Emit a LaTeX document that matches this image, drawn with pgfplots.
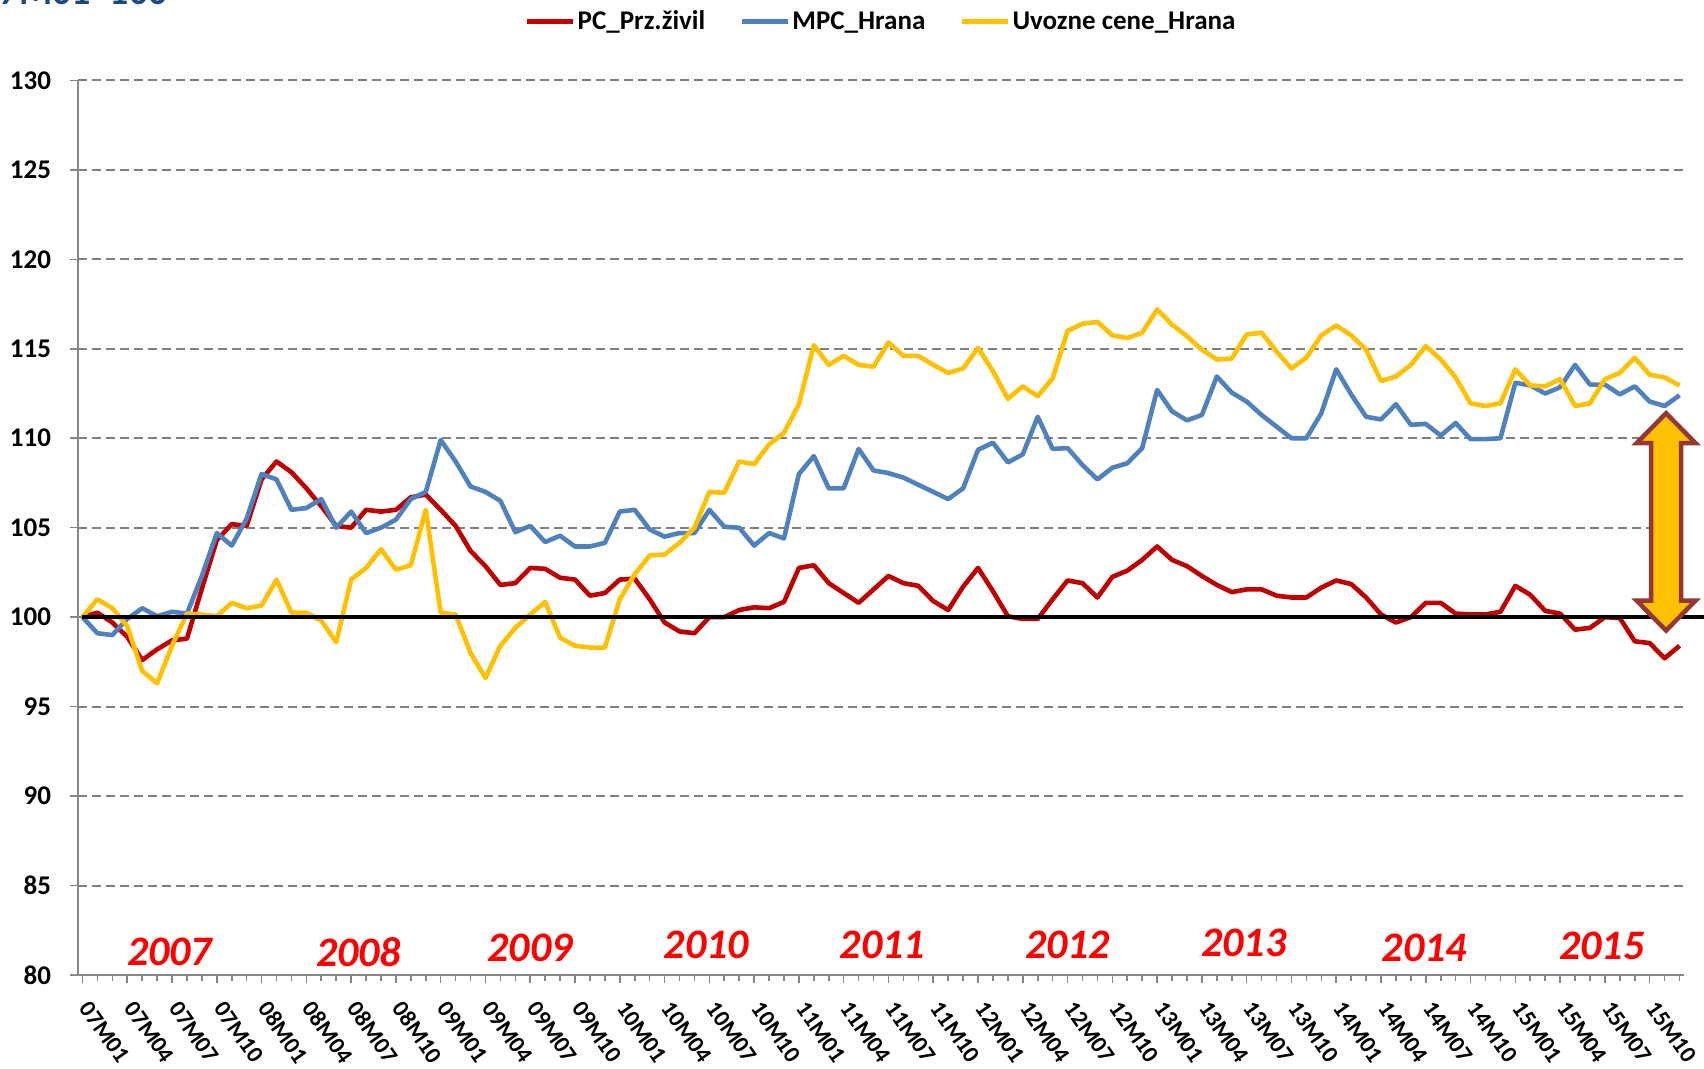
\documentclass[border=0pt]{standalone}
\usepackage{fontspec}
\setmainfont{Carlito}
\usepackage{pgfplots}
\pgfplotsset{compat=1.18}
\usepackage{pgfplotstable}
\usetikzlibrary{calc}
\definecolor{cred}{HTML}{C00000}
\definecolor{cblue}{HTML}{4F81BD}
\definecolor{cyel}{HTML}{FFC000}
\definecolor{axgray}{HTML}{868686}
\definecolor{grgray}{HTML}{808080}
\definecolor{arrbrd}{HTML}{953735}
\definecolor{ttlblue}{HTML}{1F497D}

\pgfplotstableread{
x r b u
0 100 100 100
1 100.25 99.1 101.0
2 99.7 99.0 100.5
3 98.9 99.9 99.5
4 97.6 100.5 97.0
5 98.2 100.05 96.3
6 98.7 100.3 98.4
7 98.8 100.2 100.2
8 101.6 102.3 100.15
9 104.3 104.7 100.05
10 105.2 104.0 100.8
11 105.1 105.5 100.5
12 107.7 108.0 100.65
13 108.7 107.7 102.1
14 108.1 106.0 100.25
15 107.2 106.1 100.25
16 106.2 106.6 99.8
17 105.1 105.0 98.6
18 105.0 105.9 102.1
19 106.0 104.7 102.75
20 105.9 105.0 103.8
21 106.0 105.45 102.65
22 106.7 106.6 102.9
23 106.85 107.0 106.0
24 106.0 109.9 100.25
25 105.1 108.7 100.15
26 103.7 107.3 98.0
27 102.85 107.0 96.6
28 101.8 106.5 98.4
29 101.9 104.75 99.4
30 102.75 105.1 100.15
31 102.7 104.2 100.85
32 102.2 104.55 98.85
33 102.1 103.95 98.4
34 101.2 103.95 98.3
35 101.35 104.15 98.3
36 102.1 105.9 101.0
37 102.15 106.0 102.4
38 101.0 104.9 103.45
39 99.7 104.5 103.5
40 99.2 104.7 104.15
41 99.1 104.7 105.0
42 100.0 106.0 107.0
43 100.0 105.05 106.95
44 100.4 105.0 108.7
45 100.55 104.0 108.55
46 100.5 104.7 109.65
47 100.85 104.4 110.3
48 102.75 108.0 111.9
49 102.9 109.0 115.2
50 101.9 107.2 114.1
51 101.35 107.2 114.6
52 100.8 109.4 114.1
53 101.55 108.2 114.0
54 102.3 108.05 115.35
55 101.9 107.8 114.6
56 101.75 107.4 114.6
57 100.9 107.0 114.1
58 100.4 106.6 113.65
59 101.7 107.2 113.9
60 102.75 109.35 115.05
61 101.45 109.75 113.75
62 100.05 108.65 112.2
63 99.9 109.1 112.9
64 99.9 111.2 112.35
65 101.0 109.4 113.35
66 102.05 109.45 116.0
67 101.9 108.5 116.4
68 101.1 107.7 116.5
69 102.25 108.35 115.75
70 102.6 108.6 115.6
71 103.2 109.45 115.9
72 103.95 112.7 117.2
73 103.2 111.5 116.35
74 102.85 111.0 115.7
75 102.3 111.3 114.95
76 101.8 113.45 114.4
77 101.4 112.55 114.45
78 101.55 112.05 115.8
79 101.55 111.3 115.9
80 101.2 110.65 114.85
81 101.1 110.0 113.9
82 101.1 110.0 114.5
83 101.65 111.4 115.75
84 102.05 113.85 116.3
85 101.85 112.45 115.75
86 101.1 111.2 114.95
87 100.15 111.05 113.2
88 99.7 111.9 113.45
89 100.0 110.75 114.1
90 100.8 110.8 115.15
91 100.8 110.15 114.4
92 100.2 110.85 113.4
93 100.15 109.95 111.95
94 100.15 109.95 111.8
95 100.3 110.0 111.95
96 101.75 113.1 113.85
97 101.25 112.95 112.95
98 100.35 112.5 112.9
99 100.2 112.85 113.3
100 99.3 114.1 111.8
101 99.4 113.0 111.95
102 100.0 113.0 113.3
103 99.95 112.45 113.65
104 98.65 112.9 114.5
105 98.55 112.05 113.55
106 97.7 111.8 113.4
107 98.4 112.4 112.95
}\data

\begin{document}
\begin{tikzpicture}
\useasboundingbox (-39pt,-47pt) rectangle (813pt,487.5pt);
\begin{axis}[
  scale only axis, width=803pt, height=447.3pt,
  xmin=-0.3, xmax=107.3, ymin=80, ymax=130,
  clip=false,
  axis x line*=bottom, axis y line*=left,
  axis line style={draw=axgray, line width=0.9pt, -},
  ytick={80,85,...,130},
  xtick={0,3,...,105},
  xticklabels={07M01,07M04,07M07,07M10,08M01,08M04,08M07,08M10,09M01,09M04,09M07,09M10,10M01,10M04,10M07,10M10,11M01,11M04,11M07,11M10,12M01,12M04,12M07,12M10,13M01,13M04,13M07,13M10,14M01,14M04,14M07,14M10,15M01,15M04,15M07,15M10},
  minor xtick={0,...,107},
  tick align=outside,
  major tick length=4pt, minor tick length=3pt,
  tick style={draw=axgray, line width=0.8pt},
  ymajorgrids=true,
  major grid style={draw=grgray, line width=1pt, dash pattern=on 4.5pt off 2.5pt},
  /pgf/number format/assume math mode=true,
  yticklabel style={font=\bfseries\fontsize{13.5}{15}\selectfont, xshift=-6pt},
  xticklabel style={font=\bfseries\fontsize{11.8}{13}\selectfont, xshift=4.5pt, yshift=-8pt, rotate=-55, anchor=north west, inner sep=0pt},
  legend style={at={(0.5,1)}, anchor=center, yshift=29.3pt, draw=none, fill=none,
    legend columns=3, font=\bfseries\fontsize{13.5}{15}\selectfont,
    nodes={inner xsep=1pt, inner ysep=1pt},
    /tikz/every even column/.append style={column sep=16pt}},
  legend image code/.code={\draw[#1, line width=2.6pt] (0pt,0pt) -- (23pt,0pt);},
]
\addplot[cred, line width=2.3pt, line join=round] table[x=x, y=r] {\data};
\addlegendentry{PC\_Prz.živil}
\addplot[cblue, line width=2.3pt, line join=round] table[x=x, y=b] {\data};
\addlegendentry{MPC\_Hrana}
\addplot[cyel, line width=2.3pt, line join=round] table[x=x, y=u] {\data};
\addlegendentry{Uvozne cene\_Hrana}
\addplot[black, line width=2pt, forget plot] coordinates {(0,100) (108.65,100)};

\draw[arrbrd, line width=2.25pt, fill=cyel, line join=miter]
  (axis cs:106.1,111.4) -- ++(14.75pt,-15pt) -- ++(-7.25pt,0pt)
  -- ($(axis cs:106.1,99.25)+(7.5pt,15pt)$) -- ++(7.25pt,0pt)
  -- (axis cs:106.1,99.25) -- ++(-14.75pt,15pt) -- ++(7.25pt,0pt)
  -- ($(axis cs:106.1,111.4)+(-7.5pt,-15pt)$) -- ++(-7.25pt,0pt) -- cycle;

\begin{scope}[every node/.style={font=\bfseries\itshape\fontsize{21}{24}\selectfont, text=red}]
\node at (axis cs:5.84,81.3) {2007};
\node at (axis cs:18.5,81.3) {2008};
\node at (axis cs:30.0,81.5) {2009};
\node at (axis cs:41.8,81.7) {2010};
\node at (axis cs:53.6,81.7) {2011};
\node at (axis cs:66.0,81.7) {2012};
\node at (axis cs:77.8,81.8) {2013};
\node at (axis cs:89.9,81.5) {2014};
\node at (axis cs:101.8,81.6) {2015};
\end{scope}
\end{axis}
\begin{scope}
\clip (-39pt,-47pt) rectangle (813pt,487.5pt);
\node[anchor=base east, text=ttlblue, font=\bfseries\fontsize{19}{22}\selectfont, inner sep=0pt] at (45pt,485pt) {07M01=100};
\end{scope}
\end{tikzpicture}
\end{document}
